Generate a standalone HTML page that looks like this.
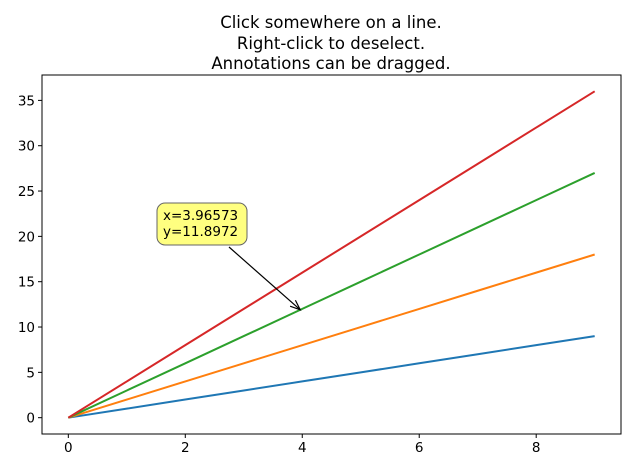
<!DOCTYPE html>
<html><head><meta charset="utf-8"><style>
body{margin:0;background:#fff}
svg{display:block;font-family:"DejaVu Sans","Liberation Sans",sans-serif}
</style></head><body>
<svg id="chart" width="640" height="472">
<g font-size="16.5" text-anchor="middle" fill="#000">
<text x="331" y="28">Click somewhere on a line.</text>
<text x="331" y="49">Right-click to deselect.</text>
<text x="331" y="69">Annotations can be dragged.</text>
</g>
<g id="plot"></g>
</svg>
<script>
const xValues=[0,1,2,3,4,5,6,7,8,9];
const slopeSeries=[1,2,3,4];
const seriesColors=['#1f77b4','#ff7f0e','#2ca02c','#d62728'];
const xTicks=[0,2,4,6,8];
const yTicks=[0,5,10,15,20,25,30,35];
const annotX=3.96573, annotY=11.8972;
const L=42,R=621,T=75,B=434,xmin=-0.45,xmax=9.45,ymin=-1.8,ymax=37.8;
const sx=v=>L+(v-xmin)/(xmax-xmin)*(R-L);
const sy=v=>B-(v-ymin)/(ymax-ymin)*(B-T);
const NS='http://www.w3.org/2000/svg';
const g=document.getElementById('plot');
function mk(t,a,p){const e=document.createElementNS(NS,t);for(const k in a)e.setAttribute(k,a[k]);(p||g).appendChild(e);return e;}
slopeSeries.forEach((k,i)=>{
 const pts=xValues.map(x=>sx(x)+','+sy(k*x)).join(' ');
 const l=mk('polyline',{points:pts,fill:'none',stroke:seriesColors[i],'stroke-width':2});
 
 
});
const frame=mk('rect',{x:L,y:T,width:R-L,height:B-T,fill:'none',stroke:'#000','stroke-width':1});


xTicks.forEach(v=>{
 const x=sx(v);
 const t=mk('line',{x1:x,x2:x,y1:B,y2:B+4,stroke:'#000'});
 
 
 const tx=mk('text',{x:x,y:B+18,'font-size':13.5,'text-anchor':'middle'});tx.textContent=v;
 
 
});
yTicks.forEach(v=>{
 const y=sy(v);
 const t=mk('line',{x1:L-4,x2:L,y1:y,y2:y,stroke:'#000'});
 
 
 const tx=mk('text',{x:L-7,y:y+5,'font-size':13.5,'text-anchor':'end'});tx.textContent=v;
 
 
});
const px=sx(annotX),py=sy(annotY);
const ag=mk('g',{});


mk('line',{x1:229,y1:247,x2:px,y2:py,stroke:'#000','stroke-width':1.2},ag);
const ang=Math.atan2(py-247,px-229);
const hx=px-10*Math.cos(ang),hy=py-10*Math.sin(ang);
const nx=-Math.sin(ang)*4,ny=Math.cos(ang)*4;
mk('polyline',{points:`${hx+nx},${hy+ny} ${px},${py} ${hx-nx},${hy-ny}`,fill:'none',stroke:'#000','stroke-width':1.2},ag);
mk('rect',{x:157,y:203,width:90,height:42,rx:8,fill:'#ffff80',stroke:'#666','stroke-width':1},ag);
const t1=mk('text',{x:163,y:220,'font-size':13.5},ag);t1.textContent='x='+annotX;
const t2=mk('text',{x:163,y:236,'font-size':13.5},ag);t2.textContent='y='+annotY;
</script>
</body></html>
